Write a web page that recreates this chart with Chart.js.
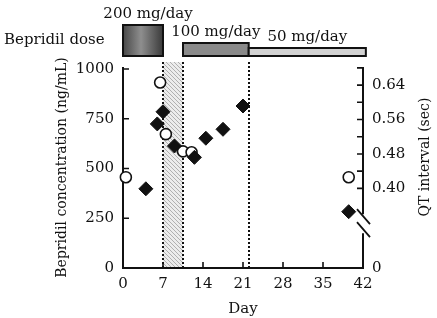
<!DOCTYPE html>
<html>
<head>
<meta charset="utf-8">
<script src="https://cdn.jsdelivr.net/npm/chart.js@4.4.0/dist/chart.umd.min.js"></script>
<style>
  html, body { margin: 0; padding: 0; background: #fff; }
  #wrap { width: 437px; height: 318px; }
</style>
</head>
<body>
<div id="wrap"><canvas id="chart"></canvas></div>
<script>
// x axis (Day)
const dayTicks = [0, 7, 14, 21, 28, 35, 42];

// Bepridil concentration (ng/mL) - filled diamonds, left axis
const concDays   = [4, 6, 7, 9, 12.5, 14.5, 17.5, 21, 39.5];
const concValues = [398, 724, 785, 613, 556, 652, 697, 814, 283];
const concTicks  = [0, 250, 500, 750, 1000];

// QT interval (sec) - open circles, right axis
const qtDays     = [0.5, 6.5, 7.5, 10.5, 12, 39.5];
const qtValues   = [0.426, 0.646, 0.526, 0.486, 0.484, 0.426];
const qtTicks    = [0.40, 0.44, 0.48, 0.52, 0.56, 0.60, 0.64, 0.68];
const qtLabelled = [0.40, 0.48, 0.56, 0.64];
const qtBreakMin = 0.215;   // bottom of the broken axis, shown as "0"

// dosing periods
const doseLabels = ['200 mg/day', '100 mg/day', '50 mg/day'];
const doseStart  = [0, 10.5, 22];
const doseEnd    = [7, 22, 42.5];

// dotted markers + shaded interval
const markerDays = [7, 10.5, 22];
const shadeDays  = [7, 10.5];

const FONT = '"DejaVu Serif", "Liberation Serif", serif';
const INK = '#111';

function hatch() {
  const c = document.createElement('canvas');
  c.width = 4; c.height = 4;
  const g = c.getContext('2d');
  g.fillStyle = '#ececec';
  g.fillRect(0, 0, 4, 4);
  g.strokeStyle = '#b0b0b0';
  g.lineWidth = 1;
  g.beginPath();
  g.moveTo(0, 0); g.lineTo(4, 4);
  g.stroke();
  return c;
}

const near = (a, b) => Math.abs(a - b) < 1e-6;

const decor = {
  id: 'decor',
  beforeDatasetsDraw(chart) {
    const { ctx, chartArea: a, scales: { x, y, y2 } } = chart;
    ctx.save();

    // shaded interval
    const x0 = x.getPixelForValue(shadeDays[0]);
    const x1 = x.getPixelForValue(shadeDays[1]);
    ctx.fillStyle = ctx.createPattern(hatch(), 'repeat');
    ctx.fillRect(x0, a.top - 5, x1 - x0, a.bottom - a.top + 5);

    // dotted lines
    ctx.strokeStyle = INK;
    ctx.lineWidth = 2;
    ctx.setLineDash([2, 2]);
    markerDays.forEach(d => {
      const px = Math.round(x.getPixelForValue(d));
      ctx.beginPath();
      ctx.moveTo(px, a.top - 5);
      ctx.lineTo(px, a.bottom);
      ctx.stroke();
    });
    ctx.setLineDash([]);

    // axis lines
    const gapTop = y2.getPixelForValue(0.34);
    const gapBot = y2.getPixelForValue(0.296);
    ctx.lineWidth = 2;
    ctx.beginPath();
    ctx.moveTo(a.left, a.top);
    ctx.lineTo(a.left, a.bottom);
    ctx.lineTo(a.right, a.bottom);
    ctx.lineTo(a.right, gapBot);
    ctx.moveTo(a.right, gapTop);
    ctx.lineTo(a.right, a.top);
    ctx.stroke();

    // inward ticks
    ctx.lineWidth = 1.6;
    ctx.beginPath();
    concTicks.slice(1).forEach(v => {
      const py = y.getPixelForValue(v);
      ctx.moveTo(a.left, py); ctx.lineTo(a.left + 6, py);
    });
    qtTicks.forEach(v => {
      const py = y2.getPixelForValue(v);
      ctx.moveTo(a.right, py); ctx.lineTo(a.right - 6, py);
    });
    dayTicks.slice(1, -1).forEach(v => {
      const px = x.getPixelForValue(v);
      ctx.moveTo(px, a.bottom); ctx.lineTo(px, a.bottom - 6);
    });
    ctx.stroke();

    // axis break marks
    ctx.lineWidth = 1.8;
    ctx.beginPath();
    ctx.moveTo(a.right - 6, gapTop - 5); ctx.lineTo(a.right + 7, gapTop + 10);
    ctx.moveTo(a.right - 6, gapBot - 11); ctx.lineTo(a.right + 7, gapBot + 4);
    ctx.stroke();

    ctx.restore();
  },
  afterDraw(chart) {
    const { ctx, scales: { x } } = chart;
    ctx.save();

    // dose bars
    const tops = [25, 43, 48];
    const bottom = 56;
    const labelDx = [5, 0, 0];
    doseLabels.forEach((lab, i) => {
      const l = x.getPixelForValue(doseStart[i]);
      const r = x.getPixelForValue(doseEnd[i]);
      let fill;
      if (i === 0) {
        fill = ctx.createLinearGradient(l, 0, r, 0);
        fill.addColorStop(0, '#474747');
        fill.addColorStop(0.45, '#8e8e8e');
        fill.addColorStop(1, '#3a3a3a');
      } else {
        fill = i === 1 ? '#8a8a8a' : '#d2d2d2';
      }
      ctx.fillStyle = fill;
      ctx.fillRect(l, tops[i], r - l, bottom - tops[i]);
      ctx.strokeStyle = INK;
      ctx.lineWidth = 2;
      ctx.strokeRect(l, tops[i], r - l, bottom - tops[i]);

      ctx.fillStyle = INK;
      ctx.font = '15px ' + FONT;
      ctx.textAlign = 'center';
      ctx.textBaseline = 'middle';
      ctx.fillText(lab, (l + r) / 2 + labelDx[i], tops[i] - 11);
    });

    ctx.textAlign = 'left';
    ctx.fillText('Bepridil dose', 4, 40);

    // right axis title (reads bottom to top)
    ctx.translate(425, 157);
    ctx.rotate(-Math.PI / 2);
    ctx.font = '14px ' + FONT;
    ctx.textAlign = 'center';
    ctx.fillText('QT interval (sec)', 0, 0);

    ctx.restore();
  }
};

new Chart(document.getElementById('chart'), {
  type: 'scatter',
  data: {
    datasets: [
      {
        label: 'Bepridil concentration',
        data: concDays.map((d, i) => ({ x: d, y: concValues[i] })),
        yAxisID: 'y',
        pointStyle: 'rectRot',
        pointRadius: 7,
        backgroundColor: INK,
        borderColor: INK,
        borderWidth: 1,
        clip: false
      },
      {
        label: 'QT interval',
        data: qtDays.map((d, i) => ({ x: d, y: qtValues[i] })),
        yAxisID: 'y2',
        pointStyle: 'circle',
        pointRadius: 5.5,
        backgroundColor: '#fff',
        borderColor: INK,
        borderWidth: 1.6,
        clip: false
      }
    ]
  },
  options: {
    responsive: true,
    maintainAspectRatio: false,
    animation: false,
    layout: { padding: { top: 67, left: 0, right: 0, bottom: 0 } },
    plugins: { legend: { display: false }, tooltip: { enabled: false } },
    scales: {
      x: {
        type: 'linear',
        min: 0,
        max: 42,
        afterBuildTicks: s => { s.ticks = dayTicks.map(v => ({ value: v })); },
        afterFit: s => { s.height = 50; },
        grid: { display: false, drawTicks: false },
        border: { display: false },
        ticks: { color: INK, font: { family: FONT, size: 15 }, padding: 7, autoSkip: false, maxRotation: 0, callback: v => String(v) },
        title: { display: true, text: 'Day', color: INK, font: { family: FONT, size: 15 }, padding: { top: 0, bottom: 0 } }
      },
      y: {
        position: 'left',
        min: 0,
        max: 1010,
        afterBuildTicks: s => { s.ticks = concTicks.map(v => ({ value: v })); },
        afterFit: s => { s.width = 123; },
        grid: { display: false, drawTicks: false },
        border: { display: false },
        ticks: { color: INK, font: { family: FONT, size: 15 }, padding: 9, autoSkip: false, callback: v => String(v) },
        title: { display: true, text: 'Bepridil concentration (ng/mL)', color: INK, font: { family: FONT, size: 14 }, padding: { top: 54, bottom: 0 } }
      },
      y2: {
        position: 'right',
        min: qtBreakMin,
        max: 0.682,
        afterBuildTicks: s => { s.ticks = [qtBreakMin, ...qtTicks].map(v => ({ value: v })); },
        afterFit: s => { s.width = 74; },
        grid: { display: false, drawTicks: false },
        border: { display: false },
        ticks: {
          color: INK,
          font: { family: FONT, size: 15 },
          padding: 9,
          autoSkip: false,
          callback: v => near(v, qtBreakMin) ? '0' : (qtLabelled.some(l => near(l, v)) ? v.toFixed(2) : '')
        }
      }
    }
  },
  plugins: [decor]
});
</script>
</body>
</html>
